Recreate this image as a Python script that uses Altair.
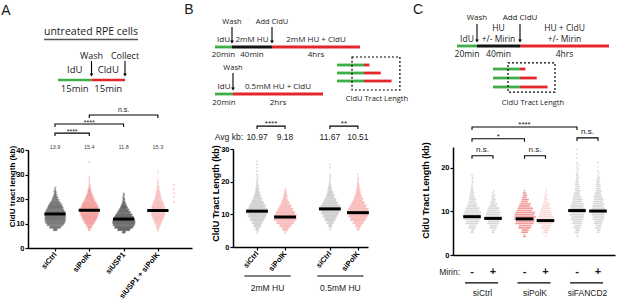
import altair as alt
import pandas as pd

# ======================= DATA =======================
# ---- Panel A : untreated RPE cells ----
A_cats = ["siCtrl", "siPolK", "siUSP1", "siUSP1 + siPolK"]
A_means = [13.9, 15.4, 11.8, 15.3]
A_bin_start = [7, 7, 6, 7]            # kb value of the first 1-kb bin of each group
A_counts = [                           # fibres per 1-kb bin
    [8, 22, 32, 38, 40, 40, 40, 38, 35, 30, 26, 20, 14, 10, 6, 4, 3, 2],
    [3, 8, 14, 20, 26, 30, 34, 36, 36, 34, 30, 26, 20, 16, 12, 8, 6, 4, 2, 1, 1, 1, 1, 0, 0, 0, 0, 0, 1],
    [6, 24, 36, 42, 44, 42, 38, 32, 26, 20, 14, 10, 6, 4, 3, 2, 1],
    [3, 6, 10, 14, 18, 22, 26, 28, 28, 26, 22, 20, 16, 12, 10, 8, 6, 4, 3, 2, 1, 1, 0, 1, 1],
]
A_side_vals = [25.7, 24.0, 22.4, 20.8, 18.8]
A_tests = [(1, 3, "n.s."), (0, 2, "****"), (0, 1, "****")]
A_title = "untreated RPE cells"
A_stages = ["IdU", "CldU"]
A_stage_min = [15, 15]
A_stage_lbl = ["15min", "15min"]
A_events = ["Wash", "Collect"]
A_event_min = [15, 30]
A_ylabel = "CldU tract length (kb)"

# ---- Panel B : HU ----
B_cats = ["siCtrl", "siPolK", "siCtrl", "siPolK"]
B_doses = ["2mM HU", "0.5mM HU"]
B_means = [10.97, 9.18, 11.67, 10.51]
B_bin_start = [4, 4, 5, 5]
B_counts = [
    [2, 6, 12, 18, 24, 30, 34, 32, 28, 22, 16, 12, 8, 6, 4, 3, 2, 2, 1, 1, 1, 1, 1],
    [2, 10, 20, 30, 38, 38, 32, 26, 20, 14, 9, 6, 4, 2],
    [2, 6, 12, 18, 24, 30, 34, 32, 26, 20, 14, 10, 7, 5, 3, 2, 2, 1, 0, 1, 1],
    [4, 10, 18, 26, 32, 36, 34, 28, 22, 16, 12, 8, 6, 4, 3, 2, 1, 1],
]
B_tests = [(0, 1, "****"), (2, 3, "**")]
B_avg_label = "Avg kb:"
B_row1_stages = ["IdU", "2mM HU", "2mM HU + CldU"]
B_row1_min = [20, 40, 240]
B_row1_lbl = ["20min", "40min", "4hrs"]
B_row1_events = ["Wash", "Add CldU"]
B_row1_event_min = [20, 60]
B_row2_stages = ["IdU", "0.5mM HU + CldU"]
B_row2_min = [20, 120]
B_row2_lbl = ["20min", "2hrs"]
B_row2_events = ["Wash"]
B_row2_event_min = [20]
B_ylabel = "CldU Tract Length (kb)"

# ---- fibre cartoon (relative tract lengths) ----
fiber_idu = 1.0
fiber_cldu = [0.2, 0.62, 1.02]
fiber_caption = "CldU Tract Length"

# ---- Panel C : Mirin ----
C_genes = ["siCtrl", "siPolK", "siFANCD2"]
C_mirin = ["-", "+"]
C_means = [8.8, 8.4, 8.3, 7.9, 10.2, 10.1]
C_bin_start = [5, 5, 4, 4, 4, 5]
C_counts = [
    [4, 10, 18, 24, 24, 20, 14, 10, 7, 5, 3, 2, 2, 1],
    [4, 10, 16, 22, 20, 16, 10, 6, 4, 2],
    [3, 10, 18, 26, 30, 28, 22, 16, 10, 6, 3],
    [2, 8, 14, 20, 22, 18, 14, 10, 6, 4, 2, 1],
    [2, 6, 10, 14, 18, 20, 20, 18, 14, 11, 8, 6, 5, 4, 3, 2, 2, 1, 1, 1, 1],
    [4, 8, 12, 16, 18, 18, 16, 14, 11, 8, 6, 5, 4, 2, 1, 1, 1],
]
C_tests = [(0, 4, "****"), (0, 2, "*"), (4, 5, "n.s."), (0, 1, "n.s."), (2, 3, "n.s.")]
C_mirin_label = "Mirin:"
C_stages = ["IdU", "HU\n+/- Mirin", "HU + CldU\n+/- Mirin"]
C_stage_min = [20, 40, 240]
C_stage_lbl = ["20min", "40min", "4hrs"]
C_events = ["Wash", "Add CldU"]
C_event_min = [20, 60]
C_ylabel = "CldU Tract Length (kb)"

# ======================= STYLE / LAYOUT =======================
GREEN, RED, BLACK = "#3fae49", "#e3262b", "#151515"
AXF = "Liberation Sans"
SKF = "Open Sans"
GRAY_PT = "rgba(140,140,140,0.3)"
PINK_PT = "rgba(240,110,110,0.36)"


def lin(domain, rng):
    return alt.Scale(domain=domain, range=rng, nice=False, zero=False)


canvas_x = lin([0, 617], [0, 617])
canvas_y = lin([0, 300], [0, 300])

A_slots = [0, 1, 2, 3]
B_slots = [0, 1, 2.6, 3.6]
C_slots = [0, 1, 2.5, 3.5, 5, 6]

xA, yA = lin([-0.787, 3.995], [28, 192]), lin([0, 40], [248, 150])
xB, yB = lin([-0.857, 3.96], [233, 368]), lin([0, 30], [247, 149])
xC, yC = lin([-0.905, 6.81], [453, 615]), lin([0, 24.8], [255, 147])


def cat_expr(slots, names):
    e = "''"
    for s, n in zip(reversed(slots), reversed(names)):
        e = f"datum.value == {s} ? '{n}' : {e}"
    return e


def x_axis(slots, names, offset, labels=True):
    kw = dict(orient="bottom", offset=offset, grid=False, title=None,
              domainColor="black", domainWidth=1.5)
    if labels:
        kw.update(values=slots, labelExpr=cat_expr(slots, names), labelAngle=-50,
                  labelAlign="right", labelBaseline="middle", labelFont=AXF,
                  labelFontWeight="bold", labelFontSize=7.5, labelColor="black",
                  labelPadding=2, labelOverlap=False, labelFlush=False,
                  tickSize=3, tickWidth=1.2, tickColor="black")
    else:
        kw.update(labels=False, ticks=False)
    return alt.Axis(**kw)


def y_axis(values, offset, title, tsize, tx, ty):
    return alt.Axis(orient="left", offset=offset, values=values, grid=False,
                    domainColor="black", domainWidth=1.5, tickSize=3, tickWidth=1.2,
                    tickColor="black", labelFont=AXF, labelFontWeight="bold",
                    labelFontSize=7.5, labelColor="black", labelPadding=1,
                    labelFlush=False, title=title, titleFont=AXF, titleFontSize=tsize,
                    titleFontWeight="bold", titleColor="black", titleX=tx, titleY=ty,
                    titleAngle=270, titleAlign="center", titleBaseline="bottom")


def XY(xs, ys, xf="x", yf="y", xaxis=None, yaxis=None):
    return dict(x=alt.X(xf, type="quantitative", scale=xs, axis=xaxis),
                y=alt.Y(yf, type="quantitative", scale=ys, axis=yaxis))


def swarm_df(counts, starts, slots, step, keys):
    rows = []
    for cnt, lo, s, k in zip(counts, starts, slots, keys):
        for b, n in enumerate(cnt):
            for h, m in enumerate([(n + 1) // 2, n // 2]):
                shift = step / 2 if (h == 1 and m == (n + 1) // 2) else 0
                for q in range(m):
                    rows.append({"x": s + (q - (m - 1) / 2) * step + shift,
                                 "y": lo + b + 0.25 + 0.5 * h, "key": k})
    return pd.DataFrame(rows)


def text_layer(df, xs, ys, xf="x", yf="y", **mk):
    base = dict(font=SKF, fontSize=8, color="#1a1a1a")
    base.update(mk)
    return alt.Chart(df).mark_text(**base).encode(text="text:N", **XY(xs, ys, xf, yf))


def data_panel(keys, slots, counts, starts, step, colors, means, hw, xs, ys,
               xaxis, yaxis, tests, test_y, drop, tsize):
    pts = swarm_df(counts, starts, slots, step, keys)
    layers = [alt.Chart(pts).mark_circle(size=3.5, opacity=1).encode(
        color=alt.Color("key:N", scale=alt.Scale(domain=keys, range=colors), legend=None),
        **XY(xs, ys, xaxis=xaxis, yaxis=yaxis))]
    mdf = pd.DataFrame({"x": [s - hw for s in slots], "x2": [s + hw for s in slots], "y": means})
    layers.append(alt.Chart(mdf).mark_rule(color="black", strokeWidth=3).encode(
        x2="x2:Q", **XY(xs, ys)))
    brows, trows = [], []
    for i, ((a, b, lab), ty) in enumerate(zip(tests, test_y)):
        xa, xb = slots[a], slots[b]
        for o, (px, py) in enumerate([(xa, ty - drop), (xa, ty), (xb, ty), (xb, ty - drop)]):
            brows.append({"id": i, "o": o, "x": px, "y": py})
        trows.append({"x": (xa + xb) / 2, "y": ty, "text": lab})
    layers.append(alt.Chart(pd.DataFrame(brows)).mark_line(color="black", strokeWidth=1.1).encode(
        detail="id:N", order="o:Q", **XY(xs, ys)))
    tdf = pd.DataFrame(trows)
    stars = tdf[tdf.text.str.startswith("*")]
    others = tdf[~tdf.text.str.startswith("*")]
    if len(stars):
        layers.append(text_layer(stars, xs, ys, font=AXF, fontSize=tsize, baseline="bottom", dy=2))
    if len(others):
        layers.append(text_layer(others, xs, ys, font=AXF, fontSize=tsize, baseline="bottom", dy=-2))
    return layers


def timeline(stages, minutes, dur_lbl, colors, events, ev_min, ts, line_y,
             lab_dy, dur_dy, ev_top, ev_lab_y, fsize, lw, lh=None):
    starts = [sum(minutes[:i]) for i in range(len(minutes))]
    ends = [s + m for s, m in zip(starts, minutes)]
    mids = [(a + b) / 2 for a, b in zip(starts, ends)]
    seg = pd.DataFrame({"x": starts, "x2": ends, "y": [line_y] * len(starts),
                        "c": colors, "mid": mids, "dur": dur_lbl})
    lh = lh if lh else fsize + 2.5
    lab_rows = []
    for m, s in zip(mids, stages):
        parts = s.split("\n")
        for k, p in enumerate(parts):
            lab_rows.append({"x": m, "y": line_y + lab_dy - (len(parts) - 1 - k) * lh, "text": p})
    ev = pd.DataFrame({"x": ev_min, "y": [ev_top] * len(ev_min), "y2": [line_y - 5] * len(ev_min),
                       "ly": [ev_lab_y] * len(ev_min), "text": events})
    L = [alt.Chart(seg).mark_rule(strokeWidth=lw).encode(
            x2="x2:Q", color=alt.Color("c:N", scale=None), **XY(ts, canvas_y))]
    L.append(text_layer(pd.DataFrame(lab_rows), ts, canvas_y, fontSize=fsize, baseline="bottom"))
    L.append(alt.Chart(seg).mark_text(font=SKF, fontSize=fsize, color="#1a1a1a", baseline="top",
                                      dy=dur_dy).encode(text="dur:N", **XY(ts, canvas_y, "mid")))
    L.append(alt.Chart(ev).mark_rule(color="black", strokeWidth=1.1).encode(
        y2="y2:Q", **XY(ts, canvas_y)))
    L.append(alt.Chart(ev).mark_point(shape="triangle-down", filled=True, size=14,
                                      color="black", opacity=1).encode(**XY(ts, canvas_y, "x", "y2")))
    L.append(text_layer(ev, ts, canvas_y, yf="ly", fontSize=fsize - 0.5, baseline="middle"))
    return L


def fibers(fx, fy, box_x, box_y, cap_x, cap_y, lw):
    rows = []
    for i, c in enumerate(fiber_cldu):
        rows.append({"x": 0, "x2": fiber_idu, "y": i, "c": GREEN})
        rows.append({"x": fiber_idu, "x2": fiber_idu + c, "y": i, "c": RED})
    L = [alt.Chart(pd.DataFrame(rows)).mark_rule(strokeWidth=lw).encode(
        x2="x2:Q", color=alt.Color("c:N", scale=None), **XY(fx, fy))]
    box = pd.DataFrame({"x": [box_x[0]], "x2": [box_x[1]], "y": [box_y[0]], "y2": [box_y[1]]})
    L.append(alt.Chart(box).mark_rect(fillOpacity=0, stroke="black", strokeWidth=1.2,
                                      strokeDash=[2, 2]).encode(x2="x2:Q", y2="y2:Q", **XY(fx, fy)))
    L.append(text_layer(pd.DataFrame({"x": [cap_x], "y": [cap_y], "text": [fiber_caption]}),
                        fx, fy, fontSize=7.5, baseline="middle"))
    return L


layers = []

# ------------------------------ Panel A ------------------------------
A_keys = [f"A{i}" for i in range(4)]
A_cols = ["rgba(30,30,30,0.36)", "rgba(240,105,105,0.38)", "rgba(25,25,25,0.4)",
          "rgba(245,140,140,0.3)"]
layers += data_panel(A_keys, A_slots, A_counts, A_bin_start, 0.03, A_cols, A_means, 0.31,
                     xA, yA, x_axis(A_slots, A_cats, -52),
                     y_axis([0, 10, 20, 30, 40], -28, A_ylabel, 8, -12, 186),
                     A_tests, [54.3, 50.6, 46.9], 1.2, 7)
layers.append(alt.Chart(pd.DataFrame({"x": [3.47] * len(A_side_vals), "y": A_side_vals})).mark_circle(
    size=3.5, opacity=1, color="rgba(245,140,140,0.5)").encode(**XY(xA, yA)))
layers.append(text_layer(pd.DataFrame({"x": A_slots, "y": [41.2] * 4,
                                       "text": [f"{m:.1f}" for m in A_means]}),
                         xA, yA, font=AXF, fontSize=5.5, color="#444", baseline="middle"))
tA = lin([0, 30], [58, 125])
layers += timeline(A_stages, A_stage_min, A_stage_lbl, [GREEN, RED], A_events, A_event_min,
                   tA, 80, -5, 3.5, 61, 56, 9.5, 2.5)
layers.append(text_layer(pd.DataFrame({"x": [91], "y": [32], "text": [A_title]}),
                         canvas_x, canvas_y, fontSize=10.5, baseline="middle"))
layers.append(alt.Chart(pd.DataFrame({"x": [44], "x2": [138], "y": [39.5]})).mark_rule(
    color="#555", strokeWidth=1.5).encode(x2="x2:Q", **XY(canvas_x, canvas_y)))

# ------------------------------ Panel B ------------------------------
B_keys = [f"B{i}" for i in range(4)]
B_cols = [GRAY_PT, PINK_PT, GRAY_PT, PINK_PT]
layers += data_panel(B_keys, B_slots, B_counts, B_bin_start, 0.042, B_cols, B_means, 0.39,
                     xB, yB, x_axis(B_slots, B_cats, -53),
                     y_axis([0, 10, 20, 30], -233, B_ylabel, 9, -13, 193),
                     B_tests, [37.0, 37.0], 0.9, 8)
layers.append(text_layer(pd.DataFrame({"x": B_slots, "y": [33.6] * 4,
                                       "text": [f"{m:.2f}" for m in B_means]}),
                         xB, yB, font=AXF, fontSize=8.5, baseline="middle"))
layers.append(text_layer(pd.DataFrame({"x": [-0.5], "y": [33.6], "text": [B_avg_label]}),
                         xB, yB, font=AXF, fontSize=8.5, baseline="middle", align="right"))
grp = pd.DataFrame({"x": [B_slots[0] - 0.45, B_slots[2] - 0.45],
                    "x2": [B_slots[1] + 0.2, B_slots[3] + 0.2], "y": [-8.9, -8.9]})
grp["mid"] = (grp.x + grp.x2) / 2
grp["ly"] = -12.5
grp["text"] = B_doses
layers.append(alt.Chart(grp).mark_rule(color="black", strokeWidth=1.1).encode(x2="x2:Q", **XY(xB, yB)))
layers.append(text_layer(grp, xB, yB, xf="mid", yf="ly", font=AXF, fontSize=8.5, baseline="middle"))
tB1 = lin([0, 20, 60, 300], [215, 232, 272, 360])
tB2 = lin([0, 20, 140], [215, 233, 323])
layers += timeline(B_row1_stages, B_row1_min, B_row1_lbl, [GREEN, BLACK, RED], B_row1_events,
                   B_row1_event_min, tB1, 47, -3.5, 3.5, 27, 22, 8, 2.8)
layers += timeline(B_row2_stages, B_row2_min, B_row2_lbl, [GREEN, RED], B_row2_events,
                   B_row2_event_min, tB2, 94, -3.5, 4.5, 73, 68, 8, 2.8)
layers += fibers(lin([0, 1], [337, 364]), lin([0, 2], [65, 81]), [0.556, 2.33], [-1.0, 3.125],
                 1.48, 4.25, 2.8)

# ------------------------------ Panel C ------------------------------
C_keys = [f"C{i}" for i in range(6)]
C_cols = [GRAY_PT, GRAY_PT, "rgba(228,50,50,0.45)", "rgba(242,135,135,0.28)", GRAY_PT, GRAY_PT]
layers += data_panel(C_keys, C_slots, C_counts, C_bin_start, 0.067, C_cols, C_means, 0.42,
                     xC, yC, x_axis(C_slots, [], -45, labels=False),
                     y_axis([0, 10, 20], -453, C_ylabel, 9, -23, 190),
                     C_tests, [29.4, 26.7, 26.9, 22.8, 22.8], 0.7, 8)
signs = pd.DataFrame({"x": C_slots, "y": [-3.9] * 6, "text": C_mirin * 3})
layers.append(text_layer(signs, xC, yC, font=AXF, fontSize=11, fontWeight="bold", baseline="middle"))
layers.append(text_layer(pd.DataFrame({"x": [-0.57], "y": [-3.9], "text": [C_mirin_label]}),
                         xC, yC, font=AXF, fontSize=8.5, baseline="middle", align="right"))
cg = pd.DataFrame({"x": [C_slots[2 * g] - 0.33 for g in range(3)],
                   "x2": [C_slots[2 * g + 1] + 0.24 for g in range(3)], "y": [-6.4] * 3})
cg["mid"] = [(C_slots[2 * g] + C_slots[2 * g + 1]) / 2 for g in range(3)]
cg["ly"] = -8.7
cg["text"] = C_genes
layers.append(alt.Chart(cg).mark_rule(color="black", strokeWidth=1.1).encode(x2="x2:Q", **XY(xC, yC)))
layers.append(text_layer(cg, xC, yC, xf="mid", yf="ly", font=AXF, fontSize=8.5, baseline="middle"))
tC = lin([0, 20, 60, 300], [457, 477, 520, 609])
layers += timeline(C_stages, C_stage_min, C_stage_lbl, [GREEN, BLACK, RED], C_events, C_event_min,
                   tC, 46, -2, 3.5, 24, 18, 8.5, 2.8, lh=11.5)
layers += fibers(lin([0, 1], [493, 520]), lin([0, 2], [69, 87]), [0.556, 2.296], [-0.67, 2.56],
                 1.48, 3.78, 2.8)

# ------------------------------ panel letters ------------------------------
letters = pd.DataFrame({"x": [6, 189, 418], "y": [11, 10, 10], "text": ["A", "B", "C"]})
layers.append(text_layer(letters, canvas_x, canvas_y, font=AXF, fontSize=14, baseline="middle"))

chart = alt.layer(*layers).resolve_scale(
    x="independent", y="independent", color="independent"
).resolve_axis(x="independent", y="independent").properties(
    width=617, height=300, padding=0, autosize=alt.AutoSizeParams(type="none")
).configure_view(stroke=None)

chart.save("out.html", embed_options={"renderer": "svg", "actions": False})
